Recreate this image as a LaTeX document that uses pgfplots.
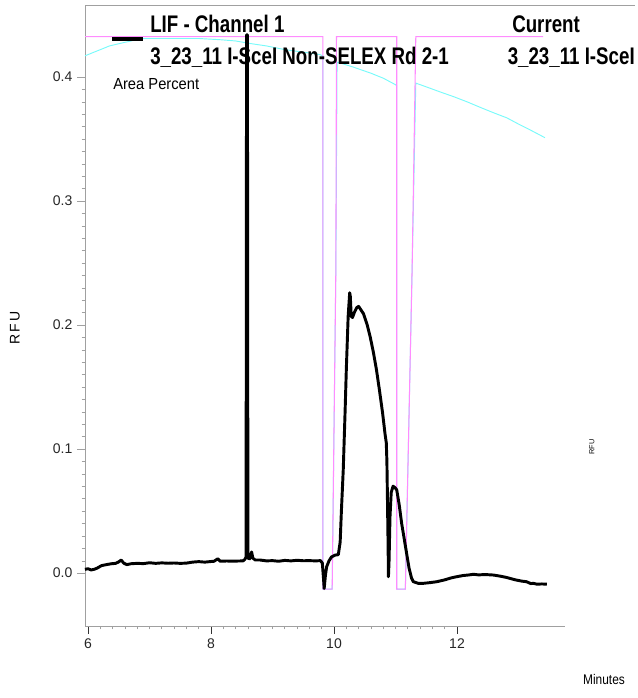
\documentclass[border=0pt]{standalone}
\usepackage{fontspec}
\setmainfont{Liberation Sans}
\newfontfamily\condfont[FakeStretch=0.78]{Liberation Sans}
\newfontfamily\areafont[FakeStretch=0.92]{Liberation Sans}
\newfontfamily\minfont[FakeStretch=0.85]{Liberation Sans}
\usepackage{pgfplots}
\pgfplotsset{compat=1.18}

\definecolor{lifblack}{RGB}{0,0,0}
\definecolor{curpink}{RGB}{255,140,255}
\definecolor{curcyan}{RGB}{120,250,250}
\definecolor{axgray}{RGB}{160,160,160}

\begin{document}
\begin{tikzpicture}
% page = 637 x 698 px, 1 px = 0.75 pt, axis box lower left at (0,0)
\path[use as bounding box] (-63.75pt,-54pt) rectangle (414pt,469.5pt);

\begin{axis}[
    name=ax,
    at={(0,0)}, anchor=south west,
    scale only axis,
    width=360pt, height=465.75pt,
    xmin=5.951, xmax=13.756,
    ymin=-0.0427, ymax=0.458,
    axis x line*=bottom, axis y line*=left,
    axis line style={axgray, line width=0.6pt},
    xtick={6,8,10,12},
    minor x tick num=9,
    ytick={0,0.1,0.2,0.3,0.4},
    minor y tick num=9,
    tick align=outside,
    major tick length=6pt, minor tick length=2.5pt,
    x tick style={line width=0.6pt},
    major x tick style={black!80},
    minor tick style={axgray},
    major y tick style={axgray},
    tick label style={font=\fontsize{10.5}{12}\selectfont, text=black!85},
    /pgf/number format/assume math mode=true,
    yticklabel style={/pgf/number format/.cd, fixed, fixed zerofill, precision=1},
    xticklabel style={/pgf/number format/.cd, fixed, precision=0},
    clip=false,
  ]
  % Current trace (cyan)
  \addplot[curcyan, line width=0.7pt] coordinates {
    (5.95,0.417) (6.05,0.419) (6.2,0.422) (6.35,0.425) (6.52,0.427) (6.70,0.429) (6.85,0.431)
    (7.2,0.431) (7.5,0.431) (7.8,0.431) (8.15,0.430) (8.4,0.429) (8.63,0.427) (8.9,0.425)
    (9.2,0.422) (9.5,0.420) (9.77,0.418) (9.82,0.417) (9.82,-0.013) (9.97,-0.013)
    (10.03,0.245) (10.05,0.412) (10.31,0.408) (10.6,0.403) (10.8,0.399) (10.99,0.394)
    (11.02,0.393) (11.02,-0.013) (11.16,-0.013) (11.27,0.245) (11.33,0.395) (11.5,0.392)
    (11.72,0.388) (11.95,0.384) (12.16,0.380) (12.4,0.375) (12.6,0.371) (12.81,0.367)
    (13.0,0.362) (13.2,0.357) (13.43,0.351)
  };
  % Current trace (magenta)
  \addplot[curpink, line width=0.8pt] coordinates {
    (5.951,0.4325) (9.82,0.4325) (9.82,-0.013) (9.97,-0.013) (10.03,0.245) (10.04,0.4325)
    (11.02,0.4325) (11.02,-0.013) (11.16,-0.013) (11.27,0.245) (11.33,0.4325) (13.40,0.4325)
  };
  % LIF - Channel 1
  \addplot[lifblack, line width=2.2pt, line join=round] coordinates {
    (5.95,0.003) (6.00,0.0035) (6.05,0.0025) (6.10,0.003) (6.15,0.004) (6.22,0.006)
    (6.30,0.0068) (6.38,0.0075) (6.45,0.0078) (6.50,0.009) (6.54,0.0105) (6.58,0.008)
    (6.63,0.0068) (6.70,0.0075) (6.80,0.0078) (6.90,0.0076) (7.00,0.0083) (7.10,0.0078)
    (7.20,0.0082) (7.30,0.0079) (7.40,0.0081) (7.50,0.0078) (7.60,0.008) (7.70,0.0088)
    (7.80,0.0092) (7.90,0.0088) (8.00,0.0093) (8.05,0.0095) (8.11,0.0115) (8.15,0.0095)
    (8.25,0.0097) (8.35,0.0096) (8.45,0.0097) (8.52,0.0098) (8.55,0.011) (8.57,0.013)
    (8.578,0.434) (8.592,0.434) (8.60,0.012) (8.63,0.0115) (8.66,0.017) (8.68,0.012)
    (8.72,0.0105) (8.80,0.0105) (8.90,0.0098) (9.00,0.010) (9.10,0.0095) (9.20,0.0102)
    (9.30,0.0098) (9.40,0.0103) (9.50,0.0099) (9.60,0.010) (9.70,0.0098) (9.78,0.0100)
    (9.81,0.008) (9.83,-0.005) (9.84,-0.0125) (9.86,-0.002) (9.88,0.005) (9.92,0.010)
    (9.96,0.013) (10.02,0.0145) (10.07,0.0148) (10.10,0.025) (10.12,0.05) (10.15,0.083)
    (10.18,0.13) (10.20,0.164) (10.23,0.207) (10.255,0.226) (10.265,0.223) (10.28,0.207)
    (10.30,0.206) (10.33,0.21) (10.37,0.214) (10.40,0.215) (10.44,0.212) (10.48,0.209)
    (10.54,0.20) (10.59,0.19) (10.64,0.178) (10.69,0.164) (10.74,0.147) (10.79,0.129)
    (10.83,0.112) (10.85,0.105) (10.86,0.09) (10.87,0.056) (10.88,0.02) (10.885,-0.003)
    (10.895,0.01) (10.91,0.045) (10.93,0.065) (10.96,0.07) (10.99,0.069) (11.02,0.067)
    (11.06,0.055) (11.10,0.040) (11.14,0.028) (11.18,0.016) (11.22,0.004) (11.26,-0.004)
    (11.29,-0.007) (11.37,-0.0083) (11.45,-0.0083) (11.55,-0.0078) (11.67,-0.007)
    (11.80,-0.0055) (11.90,-0.004) (11.99,-0.003) (12.10,-0.002) (12.20,-0.0015)
    (12.27,-0.001) (12.35,-0.0015) (12.45,-0.0012) (12.59,-0.0016) (12.70,-0.0025)
    (12.80,-0.0035) (12.86,-0.0043) (12.95,-0.0055) (13.05,-0.0065) (13.13,-0.007)
    (13.20,-0.0085) (13.24,-0.0083) (13.30,-0.009) (13.38,-0.0088) (13.46,-0.009)
  };
\end{axis}

% labels and legend, placed in image pixels (origin top left)
\begin{scope}[x=0.75pt, y=-0.75pt, shift={(-63.75pt,469.5pt)}]
  \draw[axgray, line width=0.6pt] (85,5) -- (635,5);
  \draw[black, line width=3pt] (112,39) -- (143,39);
  \node[anchor=base west, inner sep=0pt] at (150,33)
    {\condfont\bfseries\fontsize{18}{18}\selectfont LIF - Channel 1};
  \node[anchor=base west, inner sep=0pt] at (150,65)
    {\condfont\bfseries\fontsize{18}{18}\selectfont 3\_23\_11 I-SceI Non-SELEX Rd 2-1};
  \node[anchor=base west, inner sep=0pt] at (512,33)
    {\condfont\bfseries\fontsize{18}{18}\selectfont Current};
  \node[anchor=base east, inner sep=0pt] at (635,65)
    {\condfont\bfseries\fontsize{18}{18}\selectfont 3\_23\_11 I-SceI};
  \node[anchor=base west, inner sep=0pt] at (113,90)
    {\areafont\fontsize{12}{12}\selectfont Area Percent};
  \node[rotate=90, inner sep=0pt] at (15,328)
    {\fontsize{10.5}{12}\selectfont R\,F\,U};
  \node[rotate=90, inner sep=0pt] at (592,447)
    {\fontsize{5.5}{6}\selectfont RFU};
  \node[inner sep=0pt] at (604,679)
    {\minfont\fontsize{10.5}{12}\selectfont Minutes};
\end{scope}
\end{tikzpicture}
\end{document}
